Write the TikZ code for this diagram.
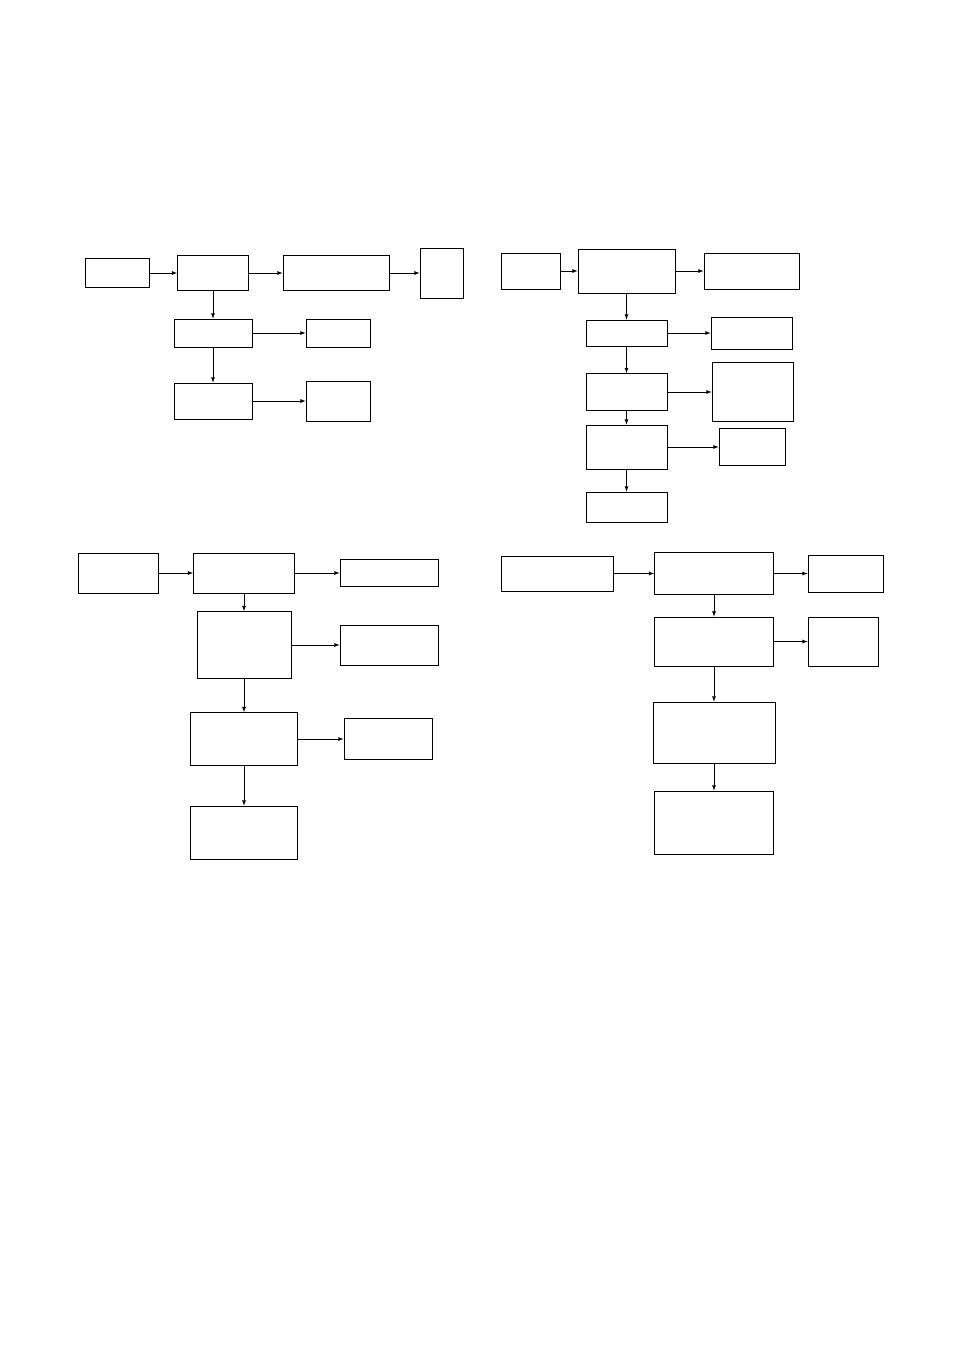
\documentclass[tikz,border=0pt]{standalone}
\usepackage{tikz}
\usetikzlibrary{arrows}

\begin{document}
\begin{tikzpicture}[x=1pt, y=-1pt, line width=0.8pt,
  box/.style={draw=black, rectangle, inner sep=0pt, minimum width=#1},
  flow/.style={-latex, line width=0.8pt}]
\useasboundingbox (0,0) rectangle (954,1351);
%%%%% Panel 1 %%%%%
\node[box=64pt, minimum height=29pt] (a1) at (117,273) {};
\node[box=71pt, minimum height=35pt] (b1) at (213,273) {};
\node[box=106pt, minimum height=35pt] (c1) at (336,273) {};
\node[box=43pt, minimum height=50pt] (d1) at (441.5,273) {};
\node[box=78pt, minimum height=28pt] (e1) at (213,333) {};
\node[box=64pt, minimum height=28pt] (f1) at (338,333) {};
\node[box=78pt, minimum height=36pt] (g1) at (213,401) {};
\node[box=64pt, minimum height=40pt] (h1) at (338,401) {};
\draw[flow] (a1) -- (b1);
\draw[flow] (b1) -- (c1);
\draw[flow] (c1) -- (d1);
\draw[flow] (b1) -- (e1);
\draw[flow] (e1) -- (f1);
\draw[flow] (e1) -- (g1);
\draw[flow] (g1) -- (h1);
%%%%% Panel 2 %%%%%
\node[box=59pt, minimum height=36pt] (a2) at (530.5,271) {};
\node[box=97pt, minimum height=44pt] (b2) at (626.5,271) {};
\node[box=95pt, minimum height=36pt] (c2) at (751.5,271) {};
\node[box=81pt, minimum height=26pt] (d2) at (626.5,333) {};
\node[box=81pt, minimum height=32pt] (e2) at (751.5,333) {};
\node[box=81pt, minimum height=37pt] (f2) at (626.5,392) {};
\node[box=81pt, minimum height=59pt] (g2) at (752.5,392) {};
\node[box=81pt, minimum height=44pt] (h2) at (626.5,447) {};
\node[box=66pt, minimum height=37pt] (i2) at (752,447) {};
\node[box=81pt, minimum height=30pt] (j2) at (626.5,507) {};
\draw[flow] (a2) -- (b2);
\draw[flow] (b2) -- (c2);
\draw[flow] (b2) -- (d2);
\draw[flow] (d2) -- (e2);
\draw[flow] (d2) -- (f2);
\draw[flow] (f2) -- (g2);
\draw[flow] (f2) -- (h2);
\draw[flow] (h2) -- (i2);
\draw[flow] (h2) -- (j2);
%%%%% Panel 3 %%%%%
\node[box=80pt, minimum height=40pt] (a3) at (118,573) {};
\node[box=101pt, minimum height=40pt] (b3) at (244,573) {};
\node[box=98pt, minimum height=27pt] (c3) at (389,573) {};
\node[box=94pt, minimum height=67pt] (d3) at (244,645) {};
\node[box=98pt, minimum height=40pt] (e3) at (389,645) {};
\node[box=107pt, minimum height=53pt] (f3) at (244,739) {};
\node[box=88pt, minimum height=41pt] (g3) at (388,739) {};
\node[box=107pt, minimum height=53pt] (h3) at (244,832.5) {};
\draw[flow] (a3) -- (b3);
\draw[flow] (b3) -- (c3);
\draw[flow] (b3) -- (d3);
\draw[flow] (d3) -- (e3);
\draw[flow] (d3) -- (f3);
\draw[flow] (f3) -- (g3);
\draw[flow] (f3) -- (h3);
%%%%% Panel 4 %%%%%
\node[box=112pt, minimum height=35pt] (a4) at (557,573.5) {};
\node[box=119pt, minimum height=42pt] (b4) at (714,573.5) {};
\node[box=75pt, minimum height=37pt] (c4) at (845.5,573.5) {};
\node[box=119pt, minimum height=49pt] (d4) at (714,641.5) {};
\node[box=70pt, minimum height=49pt] (e4) at (843,641.5) {};
\node[box=122pt, minimum height=61pt] (f4) at (714,732.5) {};
\node[box=119pt, minimum height=63pt] (g4) at (714,822.5) {};
\draw[flow] (a4) -- (b4);
\draw[flow] (b4) -- (c4);
\draw[flow] (b4) -- (d4);
\draw[flow] (d4) -- (e4);
\draw[flow] (d4) -- (f4);
\draw[flow] (f4) -- (g4);
\end{tikzpicture}
\end{document}
